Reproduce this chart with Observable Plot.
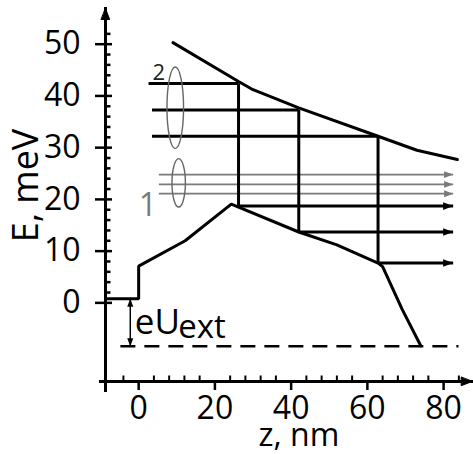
<!DOCTYPE html>
<html><head><meta charset="utf-8">
<script src="https://cdn.jsdelivr.net/npm/d3@7"></script>
<script src="https://cdn.jsdelivr.net/npm/@observablehq/plot@0.6"></script>
<style>body{margin:0;background:#fff;} svg{display:block;overflow:visible;}</style>
</head><body><div id="chart"></div>
<script>
// ---- tick values ----
const zTicks = [0, 20, 40, 60, 80];
const eTicks = [0, 10, 20, 30, 40, 50];
const zMinor = [-4, 4, 8, 12, 16, 24, 28, 32, 36, 44, 48, 52, 56, 64, 68, 72, 76, 84];
const eMinor = [2, 4, 6, 8, 12, 14, 16, 18, 22, 24, 26, 28, 32, 34, 36, 38, 42, 44, 46, 48, 52];

// ---- band profiles (z in nm, E in meV) ----
const upperZ = [9, 26.2, 30, 42, 62.8, 73, 83.6];
const upperE = [50.3, 42.8, 41.2, 37.7, 32.2, 29.5, 27.7];
const lowerZ = [-8.7, 0, 0, 12.2, 24.3, 42, 52, 62.8, 64, 69.1, 74];
const lowerE = [0.8, 0.8, 7.1, 12.0, 19.1, 13.7, 11.2, 7.7, 7.0, -1.2, -8.3];

// ---- levels (group 2, black) ----
const levelE = [42.4, 37.3, 32.2];
const levelStartZ = [2.6, 3.5, 3.5];
const stepZ = [26.2, 42, 62.8];
const stepBottomE = [18.7, 13.7, 7.7];
const arrowEndZ = 82.5;

// ---- levels (group 1, gray) ----
const grayE = [24.8, 22.9, 21.1];
const grayStartZ = 5.3;

// ---- bias ----
const fermiE = 0.8;
const biasE = -8.4;
const biasZ = -2.2;
const dashedZ = [-4.8, 83.9];

// ---- group ellipses and labels ----
const groupLabels = ["2", "1"];
const groupLabelZ = [5.25, 2.4];
const groupLabelE = [44.5, 18.8];
const ellipseZ = [9.6, 10.5];
const ellipseE = [37.7, 23.2];

const tri = {draw(ctx, l) { ctx.moveTo(0, -l); ctx.lineTo(l * 0.38, 0); ctx.lineTo(-l * 0.38, 0); ctx.closePath(); }};
const tickShape = {draw(ctx, l) { ctx.moveTo(0, 0); ctx.lineTo(0, -l); }};
function ellipseSymbol(aspect) {
  return {draw(ctx, size) {
    const ry = Math.sqrt(size / Math.PI), rx = ry * aspect, k = 0.5523;
    ctx.moveTo(0, -ry);
    ctx.bezierCurveTo(k * rx, -ry, rx, -k * ry, rx, 0);
    ctx.bezierCurveTo(rx, k * ry, k * rx, ry, 0, ry);
    ctx.bezierCurveTo(-k * rx, ry, -rx, k * ry, -rx, 0);
    ctx.bezierCurveTo(-rx, -k * ry, -k * rx, -ry, 0, -ry);
    ctx.closePath();
  }};
}

const upper = upperZ.map((z, i) => ({z, e: upperE[i]}));
const lower = lowerZ.map((z, i) => ({z, e: lowerE[i]}));
const levels = levelE.map((e, i) => ({x1: levelStartZ[i], x2: stepZ[i], e}));
const steps = stepZ.map((z, i) => ({z, e1: levelE[i], e2: stepBottomE[i]}));
const outArrows = stepZ.map((z, i) => ({x1: z, x2: arrowEndZ, e: stepBottomE[i]}));
const grayArrows = grayE.map(e => ({x1: grayStartZ, x2: arrowEndZ, e}));
const labels = groupLabels.map((t, i) => ({t, z: groupLabelZ[i], e: groupLabelE[i]}));

const chart = Plot.plot({
  width: 473, height: 454,
  marginLeft: 105, marginRight: 1.3, marginTop: 8, marginBottom: 73,
  style: {fontFamily: "'Open Sans', sans-serif", background: "white", color: "black"},
  x: {domain: [-8.7, 87.5]},
  y: {domain: [-15.2, 56.9]},
  marks: [
    // axes lines
    Plot.frame({anchor: "left", strokeWidth: 3, insetBottom: -9}),
    Plot.frame({anchor: "bottom", strokeWidth: 3, insetLeft: -5}),
    Plot.vector([0], {frameAnchor: "top-left", rotate: 0, anchor: "end", length: 11, shape: tri, fill: "black", stroke: "black", strokeWidth: 1}),
    Plot.vector([0], {frameAnchor: "bottom-right", rotate: 90, anchor: "end", length: 11, shape: tri, fill: "black", stroke: "black", strokeWidth: 1}),
    Plot.axisY(eTicks, {tickSize: 10, tickPadding: 15, fontSize: 32, label: null, strokeWidth: 2.5, tickFormat: d => String(d)}),
    Plot.axisX(zTicks, {tickSize: 9, tickPadding: 6, fontSize: 32, label: null, strokeWidth: 2.5, tickFormat: d => String(d)}),
    Plot.vector(eTicks, {y: d => d, frameAnchor: "left", rotate: 90, anchor: "start", length: 6.5, shape: tickShape, strokeWidth: 2.5, strokeLinecap: "butt"}),
    Plot.vector(eMinor, {y: d => d, frameAnchor: "left", rotate: 90, anchor: "start", length: 5, shape: tickShape, strokeWidth: 2.5, strokeLinecap: "butt"}),
    Plot.vector(zMinor, {x: d => d, frameAnchor: "bottom", rotate: 0, anchor: "start", length: 6, shape: tickShape, strokeWidth: 2, strokeLinecap: "butt"}),
    Plot.text(["E, meV"], {frameAnchor: "left", textAnchor: "middle", lineAnchor: "middle", rotate: -90, dx: -79, dy: -9.5, fontSize: 36}),
    Plot.text(["z, nm"], {frameAnchor: "bottom", textAnchor: "middle", lineAnchor: "middle", dx: 10, dy: 54, fontSize: 32}),

    // dashed bias level
    Plot.link([{x1: dashedZ[0], x2: dashedZ[1], e: biasE}], {x1: "x1", x2: "x2", y1: "e", y2: "e", strokeWidth: 2.5, strokeDasharray: "15,9"}),
    // eU_ext arrow
    Plot.link([{z: biasZ, e1: fermiE, e2: biasE}], {x1: "z", x2: "z", y1: "e1", y2: "e2", strokeWidth: 1.5}),
    Plot.vector([{z: biasZ, e: fermiE}], {x: "z", y: "e", rotate: 0, anchor: "end", length: 8, shape: tri, fill: "black", stroke: "none"}),
    Plot.vector([{z: biasZ, e: biasE}], {x: "z", y: "e", rotate: 180, anchor: "end", length: 8, shape: tri, fill: "black", stroke: "none"}),
    Plot.text([{z: -1.0, e: -3.9}], {x: "z", y: "e", text: () => "eU", textAnchor: "start", fontSize: 35}),
    Plot.text([{z: 10.4, e: -4.7}], {x: "z", y: "e", text: () => "ext", textAnchor: "start", fontSize: 33}),

    // bands
    Plot.line(upper, {x: "z", y: "e", strokeWidth: 3, strokeLinejoin: "miter"}),
    Plot.line(lower, {x: "z", y: "e", strokeWidth: 3, strokeLinejoin: "miter"}),

    // gray arrows (group 1)
    Plot.link(grayArrows, {x1: "x1", x2: "x2", y1: "e", y2: "e", stroke: "#7a7a7a", strokeWidth: 1.8}),
    Plot.vector(grayArrows, {x: "x2", y: "e", rotate: 90, anchor: "end", length: 9, shape: tri, fill: "#7a7a7a", stroke: "none"}),

    // black levels, steps, arrows (group 2)
    Plot.link(levels, {x1: "x1", x2: "x2", y1: "e", y2: "e", strokeWidth: 3}),
    Plot.link(steps, {x1: "z", x2: "z", y1: "e1", y2: "e2", strokeWidth: 3}),
    Plot.link(outArrows, {x1: "x1", x2: "x2", y1: "e", y2: "e", strokeWidth: 3}),
    Plot.vector(outArrows, {x: "x2", y: "e", rotate: 90, anchor: "end", length: 10, shape: tri, fill: "black", stroke: "none"}),

    // ellipses
    Plot.dot([{z: ellipseZ[0], e: ellipseE[0]}], {x: "z", y: "e", r: 40.8, symbol: ellipseSymbol(0.203), stroke: "#666", strokeWidth: 1.4, fill: "none"}),
    Plot.dot([{z: ellipseZ[1], e: ellipseE[1]}], {x: "z", y: "e", r: 24.2, symbol: ellipseSymbol(0.277), stroke: "#666", strokeWidth: 1.4, fill: "none"}),

    // group labels
    Plot.text(labels.slice(0, 1), {x: "z", y: "e", text: "t", fontSize: 22, fill: "#222"}),
    Plot.text(labels.slice(1), {x: "z", y: "e", text: "t", fontSize: 32, fill: "#7a7a7a"})
  ]
});
document.getElementById("chart").append(chart);
</script>
</body></html>
